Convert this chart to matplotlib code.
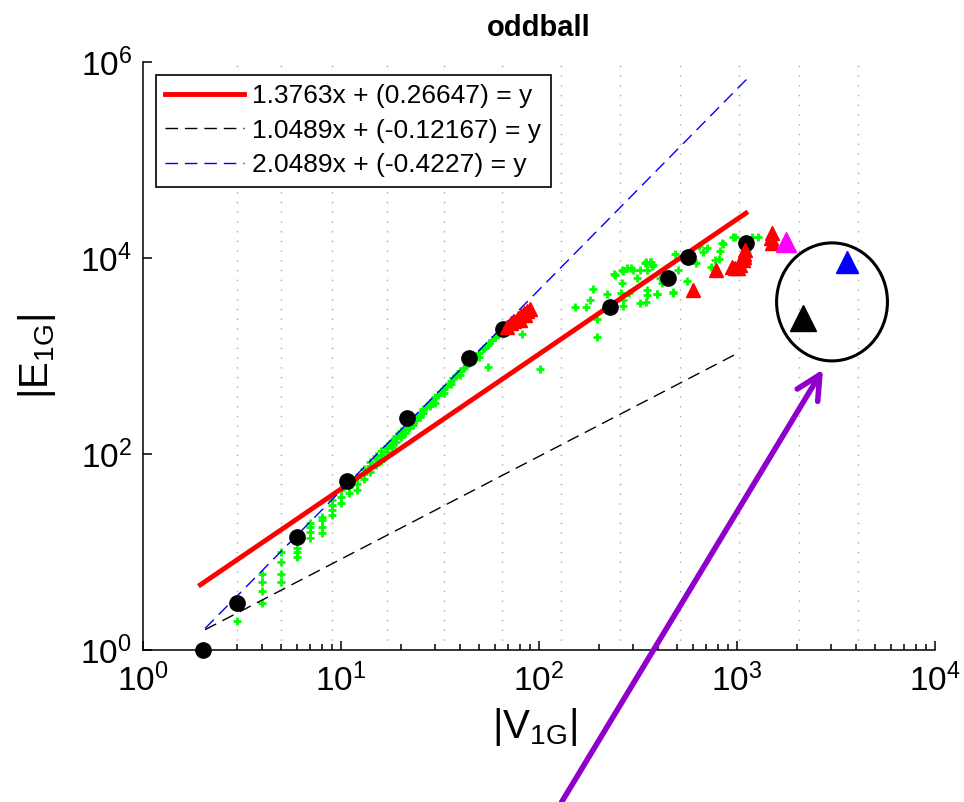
import numpy as np
import matplotlib
matplotlib.use('Agg')
import matplotlib.pyplot as plt
from matplotlib.patches import Ellipse
from matplotlib.ticker import LogLocator, NullLocator, NullFormatter

plt.rcParams['font.family'] = ['Liberation Sans', 'DejaVu Sans']
plt.rcParams['mathtext.fontset'] = 'custom'
plt.rcParams['mathtext.rm'] = 'Liberation Sans'
plt.rcParams['mathtext.it'] = 'Liberation Sans:italic'
plt.rcParams['mathtext.bf'] = 'Liberation Sans:bold'

# fitted lines in log10 space: log y = slope * log x + intercept
fit_slopes = [1.3763, 1.0489, 2.0489]
fit_intercepts = [0.26647, -0.12167, -0.4227]
fit_labels = ['1.3763x + (0.26647) = y',
              '1.0489x + (-0.12167) = y',
              '2.0489x + (-0.4227) = y']
fit_xmin = [1.95, 2.06, 2.06]
fit_xmax = [1110, 1011, 1150]

# grid positions (2^k + 1)
grid_x = [3, 5, 9, 17, 33, 65, 129, 257, 513, 1025, 2049, 4097]

# green "+" points
green_x = [3,
           4, 4, 4, 4,
           5, 5, 5, 5,
           6, 6, 6, 6,
           7, 7, 7, 7,
           8, 8, 8, 8,
           9, 9, 9, 9,
           10, 10, 10,
           11, 11, 12, 12, 12,
           13, 13, 13, 14, 14, 14, 15, 15, 15, 16, 16, 16, 17, 17, 17,
           18, 18, 18, 19, 19, 19, 20, 20, 20, 21, 21, 22, 22, 23, 23,
           24, 24, 25, 25, 26, 26, 27, 28, 28, 29, 30, 30, 31, 32, 33, 33,
           34, 35, 36, 36, 37, 38, 39, 40, 40, 42, 43, 45, 46, 47, 48, 50,
           50, 52, 53, 55, 55, 56, 58, 60, 62, 63, 65, 82, 101,
           152, 173, 188, 196, 197, 220, 239, 262, 265, 277, 292, 324, 343,
           366, 371, 352, 352, 393, 324, 347, 259, 286, 311, 477, 505, 557,
           486, 621, 645, 671, 703, 774, 820, 853, 958, 1119, 1282, 977,
           1190, 840, 740, 811, 473, 396, 267, 267, 242, 262, 298, 347, 363,
           378, 350, 181, 408, 420, 440]
green_y = [2.0,
           3, 4, 5, 6,
           5, 6, 8, 10,
           9, 10, 11, 13,
           14, 16, 18, 20,
           15.5, 18, 21, 23,
           24, 27, 30, 34,
           32, 36, 43,
           40, 46, 43, 50, 58,
           62, 70, 55, 75, 66, 82, 88, 78, 95, 98, 108, 85, 115, 104, 122,
           128, 118, 137, 145, 133, 152, 160, 148, 170, 180, 165, 200, 185, 215, 200,
           240, 220, 258, 240, 285, 265, 305, 330, 310, 355, 380, 331, 400, 430, 460, 420,
           490, 520, 560, 520, 590, 620, 660, 700, 640, 760, 800, 880, 900, 960, 1000, 1080,
           980, 1180, 1200, 1300, 773, 1350, 1450, 1550, 1650, 1700, 1800, 1670, 736,
           3140, 3140, 4830, 2370, 1574, 4300, 6870, 5520, 7430, 7850, 7850, 7540, 8830,
           9180, 8280, 4710, 4190, 4300, 3500, 3580, 4370, 4430, 6210, 4430, 7540, 5820,
           11000, 8950, 13200, 11600, 12600, 9540, 11900, 13900, 16300, 11900, 16300, 16400,
           16400, 14200, 8090, 9770, 4530, 4260, 3240, 3730, 6710, 7550, 7550, 9180, 9180,
           8490, 7550, 3730, 6310, 5500, 6000]

# black dots
dot_x = [2, 3, 6, 10.7, 21.5, 44.3, 65.8, 228, 450, 568, 1106]
dot_y = [1, 3, 14.2, 53, 233, 955, 1888, 3185, 6210, 10300, 14100]

# red triangles
red_x = [69, 72, 75, 78, 81, 84, 87, 90, 85, 80,
         600, 783, 944, 1010, 1072, 1100, 1090, 1080, 1040, 980,
         1500, 1500, 1480]
red_y = [2000, 2150, 2300, 2450, 2600, 2750, 2900, 3000, 2600, 2350,
         4710, 7550, 8090, 7900, 9550, 12000, 11000, 10300, 8400, 8000,
         18000, 14200, 16000]

# single highlighted points
magenta_pt = (1768, 14560)
black_pt = (2154, 2442)
blue_pt = (3593, 9100)

# annotation arrow (data coords)
arrow_tip = (2720, 730)
arrow_tail = (130, 0.028)

fig = plt.figure(figsize=(9.64, 8.02), dpi=100)
ax = fig.add_axes([0.1483, 0.1895, 0.8216, 0.7332])
ax.set_xscale('log')
ax.set_yscale('log')
ax.set_xlim(1, 1e4)
ax.set_ylim(1, 1e6)

for gx in grid_x:
    ax.axvline(gx, color='#a8a8a8', lw=1.0, ls=(0, (1, 6)), zorder=0)

ax.plot(green_x, green_y, '+', color='#00ff00', ms=6, mew=2, zorder=2)

styles = [dict(color='red', lw=3.5, ls='-'),
          dict(color='black', lw=1, ls=(0, (9, 5))),
          dict(color='blue', lw=1, ls=(0, (9, 5)))]
for s, b, lab, x0, x1, st in zip(fit_slopes, fit_intercepts, fit_labels,
                                 fit_xmin, fit_xmax, styles):
    xs = np.logspace(np.log10(x0), np.log10(x1), 200)
    ax.plot(xs, 10 ** b * xs ** s, label=lab, zorder=3, **st)

ax.plot(dot_x, dot_y, 'o', color='black', ms=11, zorder=4, clip_on=False)
ax.plot(red_x, red_y, '^', color='red', ms=10, mec='red', zorder=5)
ax.plot(*magenta_pt, '^', color='#ff00ff', ms=14, zorder=5)
ax.plot(*black_pt, '^', color='black', ms=19, zorder=5)
ax.plot(*blue_pt, '^', color='blue', ms=16, zorder=5)

circle = Ellipse((0.870, 0.592), 0.140, 0.2007, transform=ax.transAxes,
                 fill=False, ec='black', lw=2.2, zorder=6)
ax.add_patch(circle)

ax.annotate('', xy=arrow_tip, xytext=arrow_tail,
            arrowprops=dict(arrowstyle='->', color='#9000cc', lw=4,
                            mutation_scale=43, shrinkA=0, shrinkB=0),
            annotation_clip=False, zorder=7)

ax.set_xticks([1, 10, 100, 1000, 10000])
ax.set_xticklabels([r'$\mathregular{10^{%d}}$' % i for i in range(5)])
ax.xaxis.set_minor_locator(LogLocator(base=10, subs=np.arange(2, 10), numticks=20))
ax.xaxis.set_minor_formatter(NullFormatter())
ax.set_yticks([1, 1e2, 1e4, 1e6])
ax.set_yticklabels([r'$\mathregular{10^{%d}}$' % i for i in (0, 2, 4, 6)])
ax.yaxis.set_minor_locator(NullLocator())

ax.tick_params(which='both', direction='in', top=False, right=False, width=1.1)
ax.tick_params(which='major', length=6.5, labelsize=24)
ax.tick_params(axis='x', which='major', pad=10)
ax.tick_params(axis='y', which='major', pad=8)
ax.tick_params(which='minor', length=4)

for side in ['top', 'right']:
    ax.spines[side].set_visible(False)
for side in ['left', 'bottom']:
    ax.spines[side].set_linewidth(1.1)

ax.set_xlabel(r'$\mathregular{|V_{1G}|}$', fontsize=29)
ax.set_ylabel(r'$\mathregular{|E_{1G}|}$', fontsize=29)
ax.xaxis.set_label_coords(0.495, -0.095)
ax.yaxis.set_label_coords(-0.107, 0.5)

ax.set_title('oddball', fontsize=21, fontweight='bold', pad=19)

leg = ax.legend(loc='upper left', bbox_to_anchor=(0.0164, 0.978), borderaxespad=0,
                fontsize=19, handlelength=3.0, handletextpad=0.3,
                labelspacing=0.4, borderpad=0.35, fancybox=False,
                framealpha=1, edgecolor='black')
leg.get_frame().set_linewidth(1.2)
leg.set_zorder(8)

fig.savefig('out.png', dpi=100)
